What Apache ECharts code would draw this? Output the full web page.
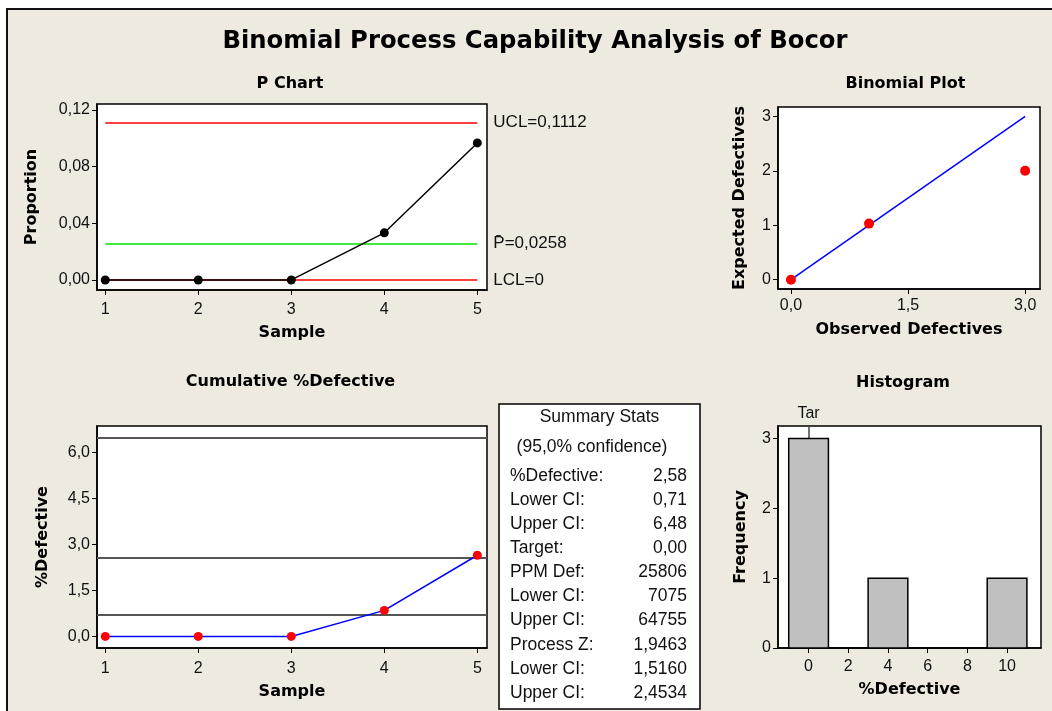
<!DOCTYPE html>
<html><head><meta charset="utf-8">
<script src="https://cdn.jsdelivr.net/npm/echarts@6/dist/echarts.min.js"></script>
<style>html,body{margin:0;padding:0;background:#fff}#c{width:1052px;height:711px}</style>
</head><body><div id="c"></div>
<script>
// ---------- data ----------
const samples = [1, 2, 3, 4, 5];
const proportion = [0, 0, 0, 0.0333, 0.0968];
const UCL = 0.1112, PBAR = 0.0258, LCL = 0;
const cumDefective = [0, 0, 0, 0.85, 2.65];
const ciLines = [6.48, 2.58, 0.71];
const observed = [0, 1, 3];
const expected = [0, 1.03, 2.0];
const fitX = [0, 3];
const fitY = [0, 3];
const histBins = [0, 2, 4, 6, 8, 10];
const histFreq = [3, 0, 1, 0, 0, 1];
const binWidth = 2;
const target = 0;
const pTicks = [0, 0.04, 0.08, 0.12];
const sampleTicks = [1, 2, 3, 4, 5];
const cumTicks = [0, 1.5, 3, 4.5, 6];
const binXTicks = [0, 1.5, 3];
const binYTicks = [0, 1, 2, 3];
const histXTicks = [0, 2, 4, 6, 8, 10];
const histYTicks = [0, 1, 2, 3];
const summaryLabels = ['%Defective:', 'Lower CI:', 'Upper CI:', 'Target:', 'PPM Def:', 'Lower CI:', 'Upper CI:', 'Process Z:', 'Lower CI:', 'Upper CI:'];
const summaryValues = ['2,58', '0,71', '6,48', '0,00', '25806', '7075', '64755', '1,9463', '1,5160', '2,4534'];

// ---------- helpers ----------
const F = "'Liberation Sans', Arial, sans-serif";
const FB = "'DejaVu Sans', Verdana, sans-serif";
const comma = d => v => v.toFixed(d).replace('.', ',');
const plain = v => String(v);

function axis(gridIndex, min, max, ticks, fmt, name, nameGap, margin) {
  return {
    type: 'value', gridIndex, min, max, name, nameLocation: 'middle', nameGap,
    nameTextStyle: { fontFamily: FB, fontWeight: 'bold', fontSize: 16, color: '#000' },
    axisLine: { show: true, onZero: false, lineStyle: { color: '#000', width: 1.5 } },
    axisTick: { show: true, length: 5, customValues: ticks, lineStyle: { color: '#000', width: 1 } },
    axisLabel: { customValues: ticks, formatter: fmt, fontFamily: F, fontSize: 16, color: '#111', margin },
    splitLine: { show: false }
  };
}
const gridStyle = { show: true, backgroundColor: '#fff', borderColor: '#000', borderWidth: 1.5, containLabel: false };
const lblStyle = { color: '#111', fontFamily: F, fontSize: 17 };

const chart = echarts.init(document.getElementById('c'));

const SF = '17.5px ' + F;
const summaryGraphics = [];
summaryGraphics.push({ type: 'rect', shape: { x: 499, y: 404, width: 201, height: 305 }, style: { fill: '#fff', stroke: '#000', lineWidth: 1.5 } });
summaryGraphics.push({ type: 'text', x: 599.5, y: 417, style: { text: 'Summary Stats', font: SF, fill: '#111', textAlign: 'center', textVerticalAlign: 'middle' } });
summaryGraphics.push({ type: 'text', x: 592, y: 447, style: { text: '(95,0% confidence)', font: SF, fill: '#111', textAlign: 'center', textVerticalAlign: 'middle' } });
summaryLabels.forEach((l, i) => {
  const y = 476 + i * 24.1;
  summaryGraphics.push({ type: 'text', x: 510, y, style: { text: l, font: SF, fill: '#111', textAlign: 'left', textVerticalAlign: 'middle' } });
  summaryGraphics.push({ type: 'text', x: 687, y, style: { text: summaryValues[i], font: SF, fill: '#111', textAlign: 'right', textVerticalAlign: 'middle' } });
});

function title(text, x, y, size) {
  return { type: 'text', x, y, style: { text, font: 'bold ' + size + 'px ' + FB, fill: '#000', textAlign: 'center', textVerticalAlign: 'middle' } };
}

const option = {
  animation: false,
  backgroundColor: '#EEEAE0',
  grid: [
    Object.assign({ left: 97, top: 104, width: 390, height: 186 }, gridStyle),
    Object.assign({ left: 778, top: 107, width: 262, height: 182 }, gridStyle),
    Object.assign({ left: 97, top: 426, width: 390, height: 222 }, gridStyle),
    Object.assign({ left: 778, top: 426, width: 263, height: 222 }, gridStyle)
  ],
  xAxis: [
    axis(0, 0.911, 5.104, sampleTicks, plain, 'Sample', 35, 12),
    axis(1, -0.166, 3.19, binXTicks, comma(1), 'Observed Defectives', 33, 9),
    axis(2, 0.911, 5.104, sampleTicks, plain, 'Sample', 36, 13),
    axis(3, -1.54, 11.71, histXTicks, plain, '%Defective', 34, 11)
  ],
  yAxis: [
    axis(0, -0.0071, 0.1243, pTicks, comma(2), 'Proportion', 57, 7),
    axis(1, -0.17, 3.17, binYTicks, plain, 'Expected Defectives', 30, 7),
    axis(2, -0.378, 6.87, cumTicks, comma(1), '%Defective', 46, 7),
    axis(3, 0, 3.18, histYTicks, plain, 'Frequency', 29, 7)
  ],
  series: [
    { // control limits
      type: 'line', xAxisIndex: 0, yAxisIndex: 0, data: [], z: 1, silent: true,
      markLine: {
        z: 1, symbol: 'none', silent: true, animation: false,
        data: [
          [{ coord: [samples[0], UCL], lineStyle: { color: '#FF0000', width: 1.5, type: 'solid' },
             label: Object.assign({ show: true, position: 'end', distance: 16, formatter: 'UCL=' + comma(4)(UCL) }, lblStyle) },
           { coord: [samples[4], UCL] }],
          [{ coord: [samples[0], PBAR], lineStyle: { color: '#00E000', width: 1.5, type: 'solid' },
             label: Object.assign({ show: true, position: 'end', distance: 16, formatter: 'P\u0304=' + comma(4)(PBAR) }, lblStyle) },
           { coord: [samples[4], PBAR] }],
          [{ coord: [samples[0], LCL], lineStyle: { color: '#FF0000', width: 1.5, type: 'solid' },
             label: Object.assign({ show: true, position: 'end', distance: 16, formatter: 'LCL=' + LCL }, lblStyle) },
           { coord: [samples[4], LCL] }]
        ]
      }
    },
    {
      type: 'line', xAxisIndex: 0, yAxisIndex: 0, z: 3,
      data: samples.map((s, i) => [s, proportion[i]]),
      symbol: 'circle', symbolSize: 9, showSymbol: true,
      lineStyle: { color: '#000', width: 1.5 }, itemStyle: { color: '#000' }
    },
    {
      type: 'line', xAxisIndex: 1, yAxisIndex: 1, z: 2,
      data: fitX.map((x, i) => [x, fitY[i]]), showSymbol: false,
      lineStyle: { color: '#0000FF', width: 1.5 }
    },
    {
      type: 'scatter', xAxisIndex: 1, yAxisIndex: 1, z: 3,
      data: observed.map((x, i) => [x, expected[i]]), symbolSize: 10,
      itemStyle: { color: '#FF0000', opacity: 1 }
    },
    {
      type: 'line', xAxisIndex: 2, yAxisIndex: 2, data: [], z: 1, silent: true,
      markLine: {
        z: 1, symbol: 'none', silent: true, animation: false, label: { show: false },
        lineStyle: { color: '#555', width: 2, type: 'solid' },
        data: ciLines.map(v => ({ yAxis: v }))
      }
    },
    {
      type: 'line', xAxisIndex: 2, yAxisIndex: 2, z: 3,
      data: samples.map((s, i) => [s, cumDefective[i]]),
      symbol: 'circle', symbolSize: 9, showSymbol: true,
      lineStyle: { color: '#0000FF', width: 1.5 }, itemStyle: { color: '#FF0000' }
    },
    {
      type: 'line', xAxisIndex: 3, yAxisIndex: 3, data: [], z: 1, silent: true,
      markLine: {
        z: 1, symbol: 'none', silent: true, animation: false,
        lineStyle: { color: '#444', width: 1.5, type: 'solid' },
        label: Object.assign({ show: true, position: 'end', distance: 4, formatter: 'Tar' }, lblStyle, { fontSize: 16 }),
        data: [{ xAxis: target }]
      }
    },
    {
      type: 'custom', xAxisIndex: 3, yAxisIndex: 3, z: 3,
      data: histBins.map((b, i) => [b, histFreq[i]]),
      renderItem: function (params, api) {
        const c = api.value(0), f = api.value(1);
        const tl = api.coord([c - binWidth / 2, f]);
        const br = api.coord([c + binWidth / 2, 0]);
        return { type: 'rect', shape: { x: tl[0], y: tl[1], width: br[0] - tl[0], height: br[1] - tl[1] },
                 style: { fill: '#C0C0C0', stroke: '#000', lineWidth: 1.5 } };
      }
    }
  ],
  graphic: [
    { type: 'rect', shape: { x: 0, y: 0, width: 1052, height: 8 }, style: { fill: '#fff' } },
    { type: 'rect', shape: { x: 0, y: 0, width: 6, height: 711 }, style: { fill: '#fff' } },
    { type: 'line', shape: { x1: 6, y1: 9, x2: 1052, y2: 9 }, style: { stroke: '#111', lineWidth: 2 } },
    { type: 'line', shape: { x1: 7, y1: 9, x2: 7, y2: 711 }, style: { stroke: '#111', lineWidth: 2 } },
    title('Binomial Process Capability Analysis of Bocor', 535, 42, 24.3),
    title('P Chart', 290, 84, 16),
    title('Binomial Plot', 905.5, 84, 16),
    title('Cumulative %Defective', 290.5, 382, 16),
    title('Histogram', 903, 382.5, 16)
  ].concat(summaryGraphics)
};
chart.setOption(option);
</script>
</body></html>
